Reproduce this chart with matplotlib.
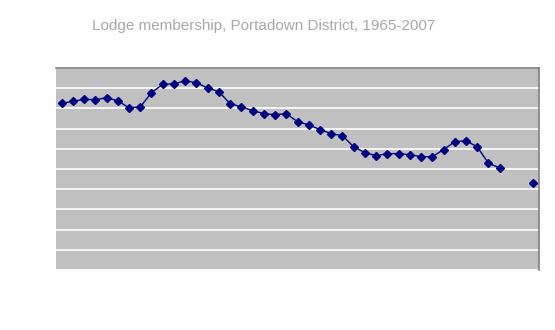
import numpy as np
import matplotlib
matplotlib.use('Agg')
import matplotlib.pyplot as plt

YEARS = list(range(1965, 2008))
MEMBERS = [82.5, 83.5, 84.5, 84.3, 85.3, 83.8, 80.3, 80.7, 87.8, 91.9,
           92.2, 93.7, 92.7, 90.1, 88.3, 82.3, 80.8, 78.9, 77.4, 76.9,
           77.4, 73.4, 71.9, 69.5, 67.5, 66.5, 61.0, 58.1, 56.6, 57.6,
           57.6, 57.1, 56.1, 56.1, 59.6, 63.5, 64.0, 61.0, 52.8, 50.6,
           None, None, 43.2]
TITLE = 'Lodge membership, Portadown District, 1965-2007'


def main():
    y = np.array([np.nan if v is None else v for v in MEMBERS], dtype=float)
    x = np.arange(len(YEARS))

    fig = plt.figure(figsize=(5.55, 3.3), dpi=100)
    ax = fig.add_axes([56 / 555, 60 / 330, 483 / 555, 202 / 330])
    ax.set_facecolor('#c0c0c0')

    ax.plot(x, y, color='#000080', lw=1, marker='D', ms=4.5,
            markerfacecolor='#000080', markeredgecolor='#000080')

    ax.set_xlim(-0.5, len(YEARS) - 0.5)
    ax.set_ylim(0, 100)
    ax.set_yticks(np.arange(0, 101, 10))
    ax.yaxis.grid(True, color='white', lw=1.2)
    ax.set_axisbelow(True)
    ax.set_xticks([])
    ax.tick_params(left=False, labelleft=False)

    for side in ['left', 'bottom']:
        ax.spines[side].set_visible(False)
    for side in ['top', 'right']:
        ax.spines[side].set_color('#808080')
        ax.spines[side].set_linewidth(1.2)

    fig.text(264 / 555, 1 - 26 / 330, TITLE, ha='center', va='center',
             fontsize=11, color='#a8a8a8', family='Liberation Sans')

    fig.savefig('out.png', dpi=100)


if __name__ == '__main__':
    main()
